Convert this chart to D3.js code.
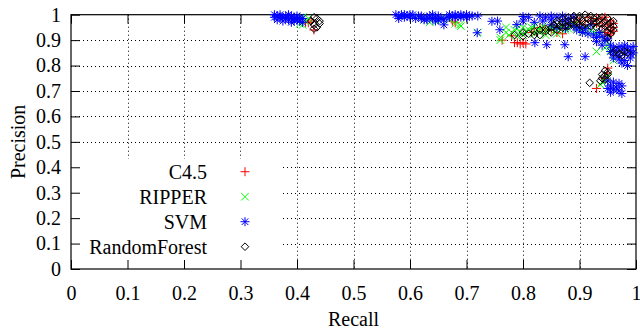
<!DOCTYPE html>
<html>
<head>
<meta charset="utf-8">
<script src="https://cdn.jsdelivr.net/npm/d3@7"></script>
<style>
html,body{margin:0;padding:0;background:#fff;}
svg{display:block;}
svg text{font-family:"Liberation Serif","Times New Roman",Times,"DejaVu Serif",serif !important;}
</style>
</head>
<body>
<svg id="chart" width="640" height="333"></svg>
<script>
// ---- data (recall, precision) ----
const seriesNames = ["C4.5", "RIPPER", "SVM", "RandomForest"];
const xTicks = [0,0.1,0.2,0.3,0.4,0.5,0.6,0.7,0.8,0.9,1];
const xTickLabels = ["0","0.1","0.2","0.3","0.4","0.5","0.6","0.7","0.8","0.9","1"];
const yTicks = [0,0.1,0.2,0.3,0.4,0.5,0.6,0.7,0.8,0.9,1];
const yTickLabels = ["0","0.1","0.2","0.3","0.4","0.5","0.6","0.7","0.8","0.9","1"];

const c45 = [
 [0.415,0.97],[0.42,0.968],[0.425,0.975],[0.43,0.94],
 [0.68,0.968],[0.675,0.975],
 [0.763,0.90],[0.78,0.917],[0.785,0.89],[0.79,0.89],[0.795,0.885],[0.80,0.89],[0.805,0.885],
 [0.82,0.935],[0.84,0.94],[0.85,0.94],[0.86,0.93],[0.87,0.945],[0.88,0.96],[0.89,0.97],[0.90,0.975],
 [0.91,0.96],[0.92,0.975],[0.93,0.965],[0.94,0.955],[0.945,0.93],[0.95,0.96],[0.955,0.94],[0.95,0.92],[0.96,0.935],
 [0.885,0.985],[0.90,0.96],[0.915,0.99],[0.93,0.985],[0.94,0.98],[0.945,0.99],[0.955,0.975],[0.96,0.965],
 [0.96,0.95],[0.955,0.925],[0.83,0.95],[0.815,0.93],[0.87,0.925],
 [0.93,0.71],[0.949,0.77],[0.945,0.75],[0.95,0.79]
];
const ripper = [
 [0.40,0.98],[0.405,0.965],[0.41,0.99],[0.415,0.975],[0.41,0.96],[0.42,0.985],
 [0.625,0.98],[0.635,0.97],[0.648,0.976],[0.655,0.985],[0.67,0.98],[0.68,0.965],[0.688,0.96],[0.69,0.955],
 [0.72,0.93],[0.77,0.93],[0.76,0.90],[0.76,0.91],
 [0.78,0.93],[0.79,0.945],[0.80,0.95],[0.81,0.94],[0.82,0.955],[0.83,0.945],[0.84,0.935],[0.85,0.95],
 [0.86,0.94],[0.87,0.955],[0.88,0.945],[0.89,0.96],[0.90,0.95],[0.91,0.94],[0.92,0.935],
 [0.80,0.92],[0.82,0.925],[0.84,0.92],[0.86,0.925],[0.79,0.915],[0.83,0.93],
 [0.785,0.94],[0.795,0.93],[0.805,0.935],[0.815,0.95],[0.825,0.94],[0.835,0.955],[0.845,0.945],
 [0.855,0.935],[0.865,0.95],[0.875,0.94],[0.885,0.955],[0.895,0.945],[0.905,0.935],[0.915,0.95],
 [0.925,0.93],[0.935,0.92],[0.945,0.90],[0.95,0.88],[0.955,0.86],[0.775,0.92],[0.77,0.95],
 [0.93,0.855],[0.945,0.87],[0.96,0.82],
 [0.937,0.725],[0.945,0.74],[0.95,0.755],[0.94,0.735]
];
const svm = [
 [0.36,1.0],[0.365,0.995],[0.37,1.0],[0.375,0.99],[0.38,0.995],[0.385,1.0],[0.39,0.99],[0.395,0.985],
 [0.40,0.995],[0.405,0.99],[0.41,0.985],[0.37,0.99],[0.38,0.985],[0.39,0.995],[0.40,0.98],
 [0.365,0.98],[0.375,0.975],[0.385,0.98],[0.395,0.975],[0.405,0.975],[0.41,0.97],[0.36,0.99],[0.39,0.97],
 [0.575,1.0],[0.58,0.995],[0.585,1.0],[0.59,1.0],[0.595,0.995],[0.60,1.0],[0.61,0.985],[0.62,0.985],
 [0.625,0.98],[0.635,0.995],[0.64,1.0],[0.645,0.99],[0.65,0.995],[0.655,0.985],[0.66,0.96],[0.665,0.99],
 [0.67,1.0],[0.675,0.995],[0.68,1.0],[0.685,0.995],[0.69,1.0],[0.695,0.995],[0.70,0.99],[0.705,0.995],
 [0.66,0.98],[0.645,0.975],[0.63,0.98],
 [0.58,0.985],[0.59,0.99],[0.60,0.99],[0.605,1.0],[0.615,0.995],[0.62,0.995],[0.63,0.99],[0.64,0.985],
 [0.65,0.98],[0.67,0.99],[0.68,0.99],[0.69,0.99],[0.70,1.0],[0.71,0.995],[0.72,0.995],
 [0.719,0.929],[0.745,0.974],[0.755,0.975],[0.759,0.941],[0.789,0.961],[0.80,0.993],[0.821,0.89],
 [0.842,0.882],[0.874,0.882],[0.88,0.835],[0.91,0.835],[0.93,0.894],
 [0.81,0.99],[0.83,0.995],[0.84,0.99],[0.85,0.995],[0.86,0.99],[0.87,0.995],[0.88,0.985],[0.89,0.99],
 [0.80,0.975],[0.82,0.97],[0.835,0.975],[0.85,0.98],[0.87,0.975],[0.88,0.965],[0.895,0.94],[0.905,0.93],
 [0.915,0.925],[0.935,0.93],[0.945,0.90],[0.95,0.905],[0.94,0.88],
 [0.86,0.95],[0.875,0.945],[0.89,0.955],[0.90,0.95],[0.91,0.945],[0.92,0.96],[0.94,0.915],[0.925,0.92],[0.93,0.91],[0.85,0.96],
 [0.955,0.88],[0.96,0.87],[0.965,0.86],[0.97,0.875],[0.975,0.865],[0.98,0.88],[0.985,0.87],[0.99,0.86],
 [0.995,0.875],[0.96,0.845],[0.97,0.84],[0.98,0.85],[0.99,0.845],[0.995,0.85],[0.97,0.825],[0.98,0.82],
 [0.985,0.80],[0.975,0.81],[0.96,0.83],[0.99,0.83],[0.955,0.855],
 [0.95,0.74],[0.955,0.72],[0.96,0.735],[0.965,0.715],[0.97,0.73],[0.975,0.72],[0.96,0.705],[0.95,0.71],
 [0.955,0.695],[0.975,0.69],[0.97,0.70]
];
const randomForest = [
 [0.425,0.975],[0.43,0.99],[0.435,0.985],[0.44,0.975],[0.43,0.96],[0.435,0.95],[0.44,0.965],[0.43,0.945],
 [0.785,0.92],[0.80,0.93],[0.81,0.925],[0.82,0.935],[0.83,0.94],[0.84,0.945],[0.85,0.95],[0.855,0.96],
 [0.86,0.965],[0.87,0.97],[0.875,0.955],[0.88,0.975],[0.89,0.98],[0.895,0.97],[0.90,0.985],[0.905,0.975],
 [0.91,1.0],[0.915,0.985],[0.92,0.975],[0.925,0.985],[0.93,0.97],[0.935,0.98],[0.94,0.965],[0.945,0.975],
 [0.95,0.96],[0.955,0.97],[0.955,0.945],[0.95,0.93],[0.96,0.955],[0.86,0.94],[0.87,0.95],[0.89,0.96],
 [0.91,0.965],[0.93,0.95],[0.83,0.92],
 [0.86,0.975],[0.87,0.985],[0.88,0.99],[0.89,0.995],[0.90,0.995],[0.92,0.995],[0.93,0.99],[0.94,0.99],
 [0.95,0.985],[0.96,0.975],[0.96,0.94],[0.955,0.925],[0.95,0.91],[0.88,0.955],[0.90,0.96],[0.92,0.955],
 [0.94,0.945],[0.85,0.93],[0.82,0.92],[0.80,0.915],[0.84,0.935],[0.865,0.955],[0.885,0.965],[0.905,0.955],
 [0.925,0.965],[0.945,0.955],
 [0.96,0.85],[0.965,0.86],[0.97,0.845],[0.98,0.855],[0.975,0.84],[0.985,0.85],
 [0.918,0.732],[0.937,0.74],[0.94,0.75],[0.945,0.76],[0.95,0.775],[0.94,0.765],[0.945,0.745],[0.945,0.78],[0.95,0.765]
];
const seriesData = [c45, ripper, svm, randomForest];
const seriesColors = ["#ff0000", "#00ff00", "#0000ff", "#000000"];
const seriesShapes = ["plus", "cross", "star", "diamond"];

// ---- layout ----
const svg = d3.select("#chart");
const L = 71, R = 636, T = 14.7, B = 269;
const x = d3.scaleLinear().domain([0,1]).range([L,R]);
const y = d3.scaleLinear().domain([0,1]).range([B,T]);
const FONT = "Liberation Serif, Times New Roman, serif";

const shapePath = {
  plus: "M-4.5,0H4.5M0,-4.5V4.5",
  cross: "M-3.8,-3.8L3.8,3.8M-3.8,3.8L3.8,-3.8",
  star: "M-4.5,0H4.5M0,-4.5V4.5M-3.3,-3.3L3.3,3.3M-3.3,3.3L3.3,-3.3",
  diamond: "M0,-3.8L3.8,0L0,3.8L-3.8,0Z"
};

// grid
const grid = svg.append("g").attr("stroke","#000").attr("stroke-width",1).attr("stroke-dasharray","1,3");
grid.selectAll("line.gx").data(xTicks.slice(1,-1)).join("line")
  .attr("x1",d=>Math.round(x(d))+0.5).attr("x2",d=>Math.round(x(d))+0.5).attr("y1",T).attr("y2",B);
grid.selectAll("line.gy").data(yTicks.slice(1,-1)).join("line")
  .attr("y1",d=>Math.round(y(d))+0.5).attr("y2",d=>Math.round(y(d))+0.5).attr("x1",L).attr("x2",R);

// opaque key box
svg.append("rect").attr("x",L).attr("y",159).attr("width",282-L).attr("height",B-159).attr("fill","#fff");

// axes
const fontSize = 20;
const fmtX = (d,i)=>xTickLabels[i];
const fmtY = (d,i)=>yTickLabels[i];
const gB = svg.append("g").attr("transform",`translate(0,${B})`)
  .call(d3.axisBottom(x).tickValues(xTicks).tickFormat(fmtX).tickSize(-9).tickPadding(17));
const gT = svg.append("g").attr("transform",`translate(0,${T})`)
  .call(d3.axisTop(x).tickValues(xTicks).tickFormat("").tickSize(-9));
const gL = svg.append("g").attr("transform",`translate(${L},0)`)
  .call(d3.axisLeft(y).tickValues(yTicks).tickFormat(fmtY).tickSize(-9).tickPadding(10));
const gR = svg.append("g").attr("transform",`translate(${R},0)`)
  .call(d3.axisRight(y).tickValues(yTicks).tickFormat("").tickSize(-9));
[gB,gT,gL,gR].forEach(g=>{
  g.attr("font-family",FONT).attr("font-size",fontSize);
  g.select(".domain").remove();
  g.selectAll("line").attr("stroke","#000");
  g.selectAll("text").attr("fill","#000");
});
svg.append("rect").attr("x",L).attr("y",T).attr("width",R-L).attr("height",B-T)
  .attr("fill","none").attr("stroke","#000").attr("stroke-width",1.2);

// points
seriesData.forEach((data,i)=>{
  svg.append("g").selectAll("path").data(data).join("path")
    .attr("transform",d=>`translate(${x(d[0])},${y(d[1])})`)
    .attr("d",shapePath[seriesShapes[i]])
    .attr("fill","none").attr("stroke",seriesColors[i]).attr("stroke-width",1);
});

// legend
const legend = svg.append("g").attr("font-family",FONT).attr("font-size",fontSize);
seriesNames.forEach((n,i)=>{
  const cy = 171.7 + i*25;
  legend.append("text").attr("x",207).attr("y",cy).attr("dy","0.35em")
    .attr("text-anchor","end").attr("fill","#000").text(n);
  legend.append("path").attr("transform",`translate(245,${cy})`).attr("d",shapePath[seriesShapes[i]])
    .attr("fill","none").attr("stroke",seriesColors[i]).attr("stroke-width",1);
});

// axis titles
svg.append("text").attr("x",(L+R)/2).attr("y",326).attr("text-anchor","middle")
  .attr("font-family",FONT).attr("font-size",fontSize).text("Recall");
svg.append("text").attr("transform",`translate(25,${(T+B)/2}) rotate(-90)`).attr("text-anchor","middle")
  .attr("font-family",FONT).attr("font-size",fontSize).text("Precision");
</script>
</body>
</html>
